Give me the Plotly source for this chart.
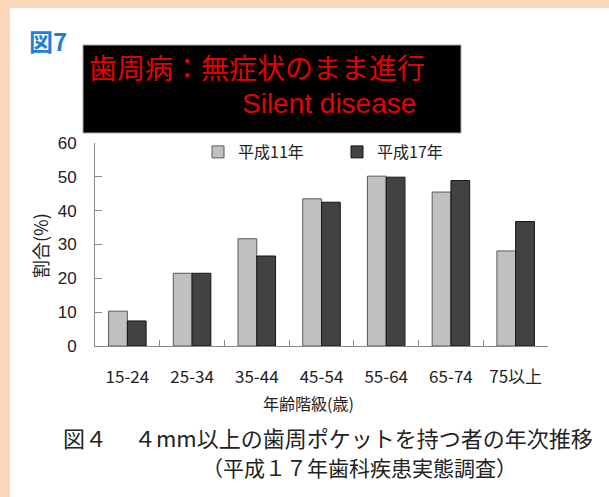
import plotly.graph_objects as go

# Age groups and share (%) of people with periodontal pockets >= 4mm
age_groups = ["15-24", "25-34", "35-44", "45-54", "55-64", "65-74", "75以上"]
h11_values = [10.3, 21.5, 31.7, 43.5, 50.2, 45.5, 28.1]
h17_values = [7.4, 21.5, 26.6, 42.5, 49.9, 48.9, 36.8]
series_names = ["平成11年", "平成17年"]
y_ticks = [0, 10, 20, 30, 40, 50, 60]

W, H = 609, 497
L, R, T, B = 95, 548, 143, 346


def px(x):
    return (x - L) / (R - L)


def py(y):
    return (B - y) / (B - T)


JP = "Noto Sans CJK JP"
SANS = "Liberation Sans, Arial, sans-serif"

fig = go.Figure()
fig.add_trace(go.Bar(
    x=age_groups, y=h11_values, name=series_names[0],
    marker=dict(color="#c0c0c0", line=dict(color="#5a5a5a", width=1)),
))
fig.add_trace(go.Bar(
    x=age_groups, y=h17_values, name=series_names[1],
    marker=dict(color="#424242", line=dict(color="#151515", width=1)),
))

shapes = [
    # white card on the peach page
    dict(type="rect", xref="paper", yref="paper", layer="below",
         x0=px(10), x1=px(W + 5), y0=py(8), y1=py(H + 5),
         fillcolor="white", line=dict(width=0)),
    # black banner
    dict(type="rect", xref="paper", yref="paper",
         x0=px(83), x1=px(461), y0=py(45), y1=py(133),
         fillcolor="black", line=dict(color="#aaaaaa", width=1)),
]

annotations = [
    dict(text="図7", x=px(27), y=py(41), xref="paper", yref="paper",
         xanchor="left", yanchor="middle", showarrow=False,
         font=dict(family=JP, size=24, color="#1c80d8", weight="bold")),
    dict(text="歯周病：無症状のまま進行", x=px(87), y=py(67), xref="paper", yref="paper",
         xanchor="left", yanchor="middle", showarrow=False,
         font=dict(family=JP, size=28, color="#e60000")),
    dict(text="Silent disease", x=px(418), y=py(104), xref="paper", yref="paper",
         xanchor="right", yanchor="middle", showarrow=False,
         font=dict(family=SANS, size=28, color="#e60000")),
    dict(text="割合(%)", x=px(40), y=py(246), xref="paper", yref="paper",
         xanchor="center", yanchor="middle", showarrow=False, textangle=-90,
         font=dict(family=JP, size=18, color="#222")),
    dict(text="年齢階級(歳)", x=px(308), y=py(403), xref="paper", yref="paper",
         xanchor="center", yanchor="middle", showarrow=False,
         font=dict(family=JP, size=16, color="#222")),
    dict(text="図４　 ４mm以上の歯周ポケットを持つ者の年次推移", x=px(61), y=py(437),
         xref="paper", yref="paper", xanchor="left", yanchor="middle", showarrow=False,
         font=dict(family=JP, size=22, color="#222")),
    dict(text="（平成１７年歯科疾患実態調査）", x=px(200), y=py(467),
         xref="paper", yref="paper", xanchor="left", yanchor="middle", showarrow=False,
         font=dict(family=JP, size=21, color="#222")),
]

fig.update_layout(
    width=W, height=H,
    margin=dict(l=L, r=W - R, t=T, b=H - B, pad=0),
    paper_bgcolor="#fcd8bb", plot_bgcolor="white",
    barmode="group", bargap=0.42, bargroupgap=0,
    shapes=shapes, annotations=annotations,
    showlegend=True,
    legend=dict(orientation="h", x=px(198), y=py(152), xanchor="left", yanchor="middle",
                bgcolor="rgba(0,0,0,0)", entrywidth=94, entrywidthmode="pixels",
                itemwidth=30, font=dict(family=JP, size=16, color="#222")),
    xaxis=dict(showline=True, linecolor="#8a8a8a", linewidth=1,
               ticks="inside", tickson="boundaries", ticklen=6, tickcolor="#8a8a8a",
               showgrid=False, fixedrange=True, ticklabelstandoff=16,
               tickfont=dict(family=JP, size=17, color="#222")),
    yaxis=dict(range=[0, 60], tickvals=y_ticks, showline=True, linecolor="#8a8a8a",
               linewidth=1, ticks="inside", ticklen=7, tickcolor="#8a8a8a",
               showgrid=False, zeroline=False, ticklabelstandoff=14,
               tickfont=dict(family=SANS, size=17, color="#222")),
)

fig.write_html("out.html")
